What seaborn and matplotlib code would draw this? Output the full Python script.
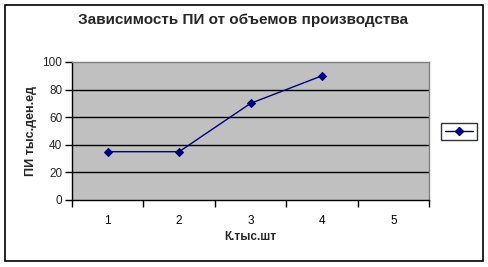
import matplotlib
matplotlib.use("Agg")
import matplotlib.pyplot as plt
import seaborn as sns
import pandas as pd
from matplotlib.patches import Rectangle
from matplotlib.lines import Line2D

categories = [1, 2, 3, 4]
values = [35, 35, 70, 90]
tick_labels = ["1", "2", "3", "4", "5"]
title = "Зависимость ПИ от объемов производства"
xlabel = "К.тыс.шт"
ylabel = "ПИ тыс.ден.ед"

sns.set_theme(style="white")
plt.rcParams["font.family"] = ["Liberation Sans", "DejaVu Sans"]

W, H = 489, 267
fig = plt.figure(figsize=(W / 100, H / 100), dpi=100)
fig.patch.set_facecolor("white")

# outer chart border
fig.patches.append(Rectangle((5 / W, 1 - 261 / H), 478 / W, 256 / H,
                             transform=fig.transFigure, fill=False,
                             edgecolor="black", linewidth=1.2, zorder=0))

left, right, top, bottom = 72, 429, 62, 200
ax = fig.add_axes([left / W, 1 - bottom / H, (right - left) / W, (bottom - top) / H])
ax.set_facecolor("#C0C0C0")

df = pd.DataFrame({"x": categories, "y": values})
sns.lineplot(data=df, x="x", y="y", ax=ax, color="#000080", linewidth=1.0,
             marker="D", markersize=4.5, markeredgecolor="#000080", legend=False)

ax.set_xlim(0.5, 5.5)
ax.set_ylim(0, 100)
ax.set_yticks([0, 20, 40, 60, 80, 100])
ax.set_xticks(range(1, 6))
ax.set_xticklabels(tick_labels)
ax.set_xticks([0.5 + i for i in range(6)], minor=True)
ax.tick_params(axis="x", which="major", length=0, labelsize=8.5, pad=11, colors="black")
ax.tick_params(axis="x", which="minor", length=5, width=1, color="black", direction="out", bottom=True)
ax.tick_params(axis="y", which="major", length=5, width=1, color="black", direction="out",
               left=True, labelsize=8.5, pad=2)
for v in [20, 40, 60, 80]:
    ax.axhline(v, color="black", linewidth=1.0, zorder=1)

for s in ["top", "right"]:
    ax.spines[s].set_color("#808080")
    ax.spines[s].set_linewidth(1.0)
for s in ["left", "bottom"]:
    ax.spines[s].set_color("black")
    ax.spines[s].set_linewidth(1.0)

ax.set_xlabel(xlabel, fontsize=8.5, fontweight="bold", labelpad=3)
ax.set_ylabel(ylabel, fontsize=9, fontweight="bold", labelpad=4)

fig.text(243 / W, 1 - 20 / H, title, ha="center", va="center",
         fontsize=11, fontweight="bold")

# legend
handle = Line2D([0], [0], color="#000080", linewidth=1.0, marker="D",
                markersize=4.5, markeredgecolor="#000080")
leg = fig.legend([handle], [""], loc="center", bbox_to_anchor=(459 / W, 1 - 131.5 / H),
                 frameon=True, fancybox=False, handlelength=2.6, handletextpad=0,
                 borderpad=0.35, borderaxespad=0, fontsize=8)
leg.get_frame().set_edgecolor("black")
leg.get_frame().set_linewidth(1.0)

fig.savefig("out.png", dpi=100)
